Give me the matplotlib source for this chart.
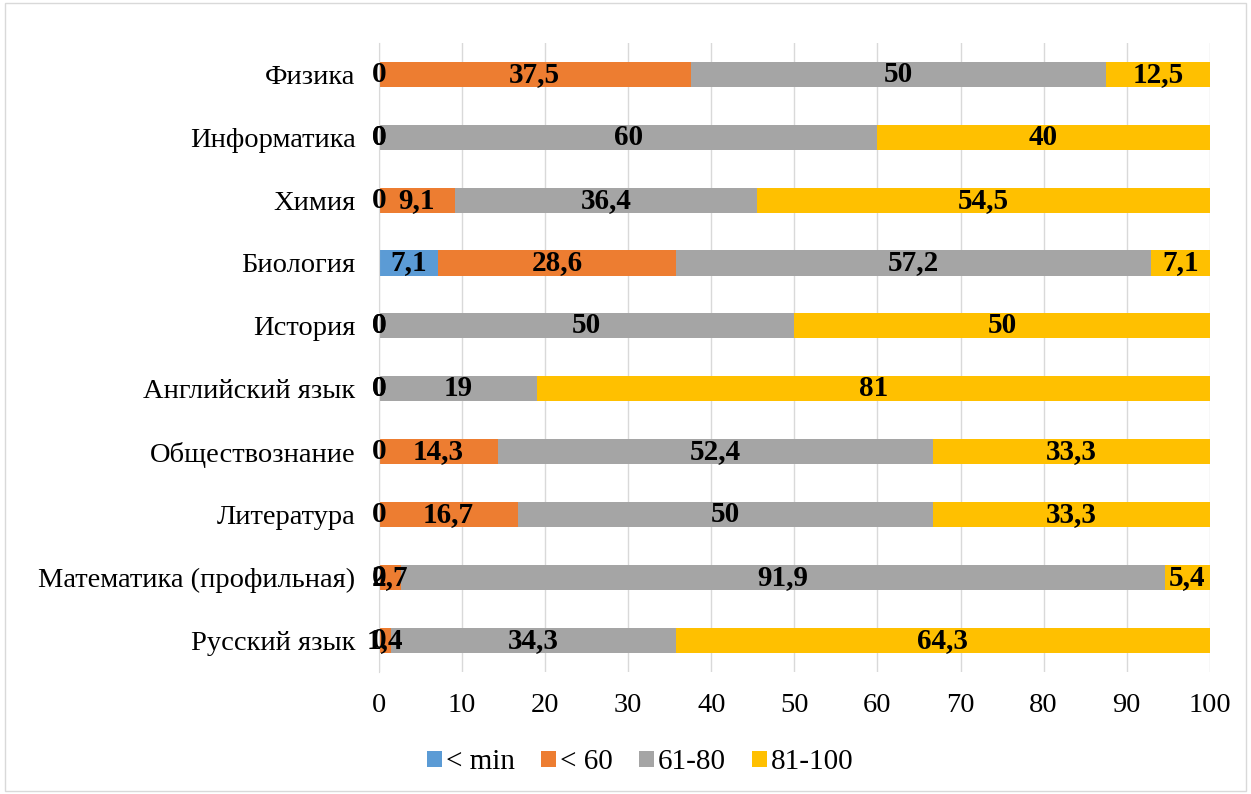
import matplotlib.pyplot as plt
from matplotlib.patches import Rectangle

subjects = ["Русский язык", "Математика (профильная)", "Литература", "Обществознание",
            "Английский язык", "История", "Биология", "Химия", "Информатика", "Физика"]
below_min = [0, 0, 0, 0, 0, 0, 7.1, 0, 0, 0]
below_60 = [1.4, 2.7, 16.7, 14.3, 0, 0, 28.6, 9.1, 0, 37.5]
from_61 = [34.3, 91.9, 50, 52.4, 19, 50, 57.2, 36.4, 60, 50]
from_81 = [64.3, 5.4, 33.3, 33.3, 81, 50, 7.1, 54.5, 40, 12.5]
series_names = ["< min", "< 60", "61-80", "81-100"]
colors = ["#5B9BD5", "#ED7D31", "#A5A5A5", "#FFC000"]

plt.rcParams["font.family"] = ["Liberation Serif", "DejaVu Serif"]

fig = plt.figure(figsize=(12.51, 7.94), dpi=100)
ax = fig.add_axes([0.303, 0.154, 0.664, 0.792])

fig.patches.append(Rectangle((0.004, 0.004), 0.992, 0.992, transform=fig.transFigure,
                             fill=False, edgecolor="#d9d9d9", linewidth=1))

y = list(range(len(subjects)))
left = [0] * len(subjects)
for vals, name, col in zip([below_min, below_60, from_61, from_81], series_names, colors):
    ax.barh(y, vals, left=left, height=0.4, color=col, label=name, zorder=2)
    for i, v in enumerate(vals):
        txt = ("%g" % v).replace(".", ",")
        ax.text(left[i] + v / 2, i, txt, ha="center", va="center",
                fontsize=21, fontweight="bold", color="black", zorder=3)
    left = [a + b for a, b in zip(left, vals)]

ax.set_xlim(0, 100)
ax.set_ylim(-0.5, len(subjects) - 0.5)
ax.set_xticks(range(0, 101, 10))
ax.set_yticks(y)
ax.set_yticklabels(subjects)
ax.tick_params(axis="both", length=0, labelsize=20.5)
ax.tick_params(axis="x", pad=15)
ax.tick_params(axis="y", pad=17)
ax.grid(axis="x", color="#d9d9d9", linewidth=1, zorder=0)
for s in ["top", "right", "bottom"]:
    ax.spines[s].set_visible(False)
ax.spines["left"].set_color("#d9d9d9")

fig.legend(loc="center", bbox_to_anchor=(0.512, 0.04), ncol=4, frameon=False,
           fontsize=21, handlelength=0.5, handleheight=0.5, handletextpad=0.15,
           columnspacing=0.9)

fig.savefig("out.png", dpi=100)
